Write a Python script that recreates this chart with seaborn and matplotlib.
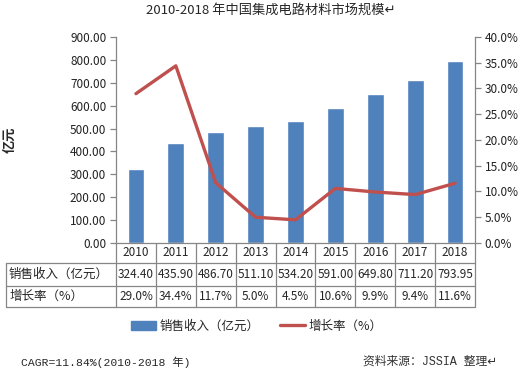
import numpy as np
import matplotlib
matplotlib.use("Agg")
import matplotlib.pyplot as plt
import matplotlib.transforms as mtransforms
from matplotlib.patches import Patch
from matplotlib.lines import Line2D
import seaborn as sns

years = ["2010", "2011", "2012", "2013", "2014", "2015", "2016", "2017", "2018"]
revenue = [324.40, 435.90, 486.70, 511.10, 534.20, 591.00, 649.80, 711.20, 793.95]
growth = [29.0, 34.4, 11.7, 5.0, 4.5, 10.6, 9.9, 9.4, 11.6]
row_labels = ["销售收入（亿元）", "增长率（%）"]

BAR = "#4F81BD"
LINE = "#C0504D"
GREY = "#868686"

sns.set_style("white")
plt.rcParams["font.family"] = ["Noto Sans CJK SC", "DejaVu Sans"]
MONO = ["Liberation Mono", "Noto Sans CJK SC", "DejaVu Sans"]

fig = plt.figure(figsize=(5.31, 3.72), dpi=100)
ax = fig.add_axes([116 / 531, 1 - 243 / 372, 359 / 531, 206 / 372])

sns.barplot(x=years, y=revenue, ax=ax, color=BAR, width=0.42, saturation=1)
ax.set_xlim(-0.5, len(years) - 0.5)
ax.set_ylim(0, 900)
ax.set_yticks(np.arange(0, 901, 100))
ax.set_yticklabels([f"{v:.2f}" for v in np.arange(0, 901, 100)], fontsize=8.5)
ax.set_xticks([])
ax.set_xlabel("")
ax.set_ylabel("")

ax2 = ax.twinx()
sns.lineplot(x=np.arange(len(years)), y=growth, ax=ax2, color=LINE, linewidth=2.4)
ax2.set_ylim(0, 40)
ax2.set_yticks(np.arange(0, 41, 5))
ax2.set_yticklabels([f"{v:.1f}%" for v in np.arange(0, 41, 5)], fontsize=8.5)
ax2.set_ylabel("")

for a in (ax, ax2):
    a.spines["top"].set_visible(False)
    for side in ("left", "right", "bottom"):
        a.spines[side].set_color(GREY)
        a.spines[side].set_linewidth(0.9)
    a.tick_params(axis="y", length=4, width=0.9, color=GREY, pad=3, labelcolor="#222222")
ax.spines["right"].set_visible(False)
ax2.spines["left"].set_visible(False)
ax2.spines["bottom"].set_visible(False)
ax.tick_params(axis="y", left=True, right=False)
ax2.tick_params(axis="y", right=True, left=False)

# data table under the axis
blend = mtransforms.blended_transform_factory(ax.transData, ax.transAxes)
y_year, y_rev, y_gro = -0.097, -0.209, -0.311
x_left = -0.306
line_kw = dict(color=GREY, linewidth=0.9, clip_on=False)
for yy in (y_year, y_rev, y_gro):
    ax.plot([x_left, 1], [yy, yy], transform=ax.transAxes, **line_kw)
ax.plot([x_left, x_left], [y_year, y_gro], transform=ax.transAxes, **line_kw)
for k in range(len(years) + 1):
    ax.plot([k - 0.5, k - 0.5], [0, y_gro], transform=blend, **line_kw)

for i, yr in enumerate(years):
    ax.text(i, y_year / 2, yr, transform=blend, ha="center", va="center", fontsize=8.5)
    ax.text(i, (y_year + y_rev) / 2, f"{revenue[i]:.2f}", transform=blend,
            ha="center", va="center", fontsize=8.5)
    ax.text(i, (y_rev + y_gro) / 2, f"{growth[i]:.1f}%", transform=blend,
            ha="center", va="center", fontsize=8.5)
ax.text(x_left + 0.008, (y_year + y_rev) / 2, row_labels[0], transform=ax.transAxes,
        ha="left", va="center", fontsize=9)
ax.text(x_left + 0.008, (y_rev + y_gro) / 2, row_labels[1], transform=ax.transAxes,
        ha="left", va="center", fontsize=9)

fig.text(271 / 531, 1 - 10 / 372, "2010-2018 年中国集成电路材料市场规模↵",
         ha="center", va="center", fontsize=9.5)
fig.text(10 / 531, 1 - 140 / 372, "亿元", rotation=90, ha="center", va="center",
         fontsize=9.5, fontweight="bold")

handles = [Patch(color=BAR), Line2D([0], [0], color=LINE, linewidth=2.4)]
fig.legend(handles, row_labels, loc="center", bbox_to_anchor=(257 / 531, 1 - 326 / 372),
           ncol=2, frameon=False, fontsize=9, handlelength=2.0, columnspacing=1.6,
           handletextpad=0.3)

fig.text(21 / 531, 1 - 362 / 372, "CAGR=11.84%(2010-2018 年)", ha="left", va="center",
         fontsize=8.2, family=MONO)
fig.text(497 / 531, 1 - 362 / 372, "资料来源：JSSIA 整理↵", ha="right", va="center",
         fontsize=8.5, color="#333333", family=MONO)

fig.savefig("out.png", dpi=100)
